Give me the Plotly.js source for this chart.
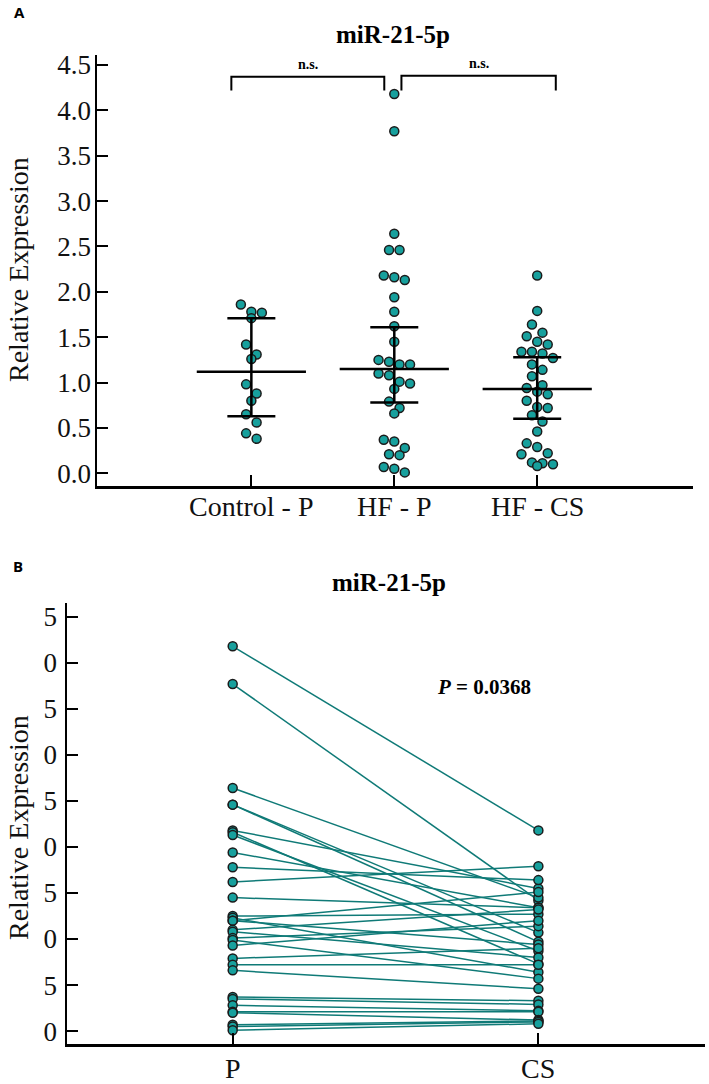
<!DOCTYPE html>
<html>
<head>
<meta charset="utf-8">
<script src="https://cdn.plot.ly/plotly-3.0.1.min.js"></script>
<style>
    html, body { margin: 0; padding: 0; background: #fff; }
    #chart { width: 709px; height: 1084px; }
</style>
</head>
<body>
<div id="chart"></div>
<script>
// ---- data ----
const groupNames = ['Control - P', 'HF - P', 'HF - CS'];

const controlP = [1.86, 1.78, 1.77, 1.71, 1.42, 1.31, 1.26, 0.98, 0.88, 0.80, 0.65, 0.56, 0.44, 0.38];

// HF plasma and coronary sinus, same patient at the same index (panel B pairs them)
const hfP = [4.18, 3.77, 2.64, 2.46, 2.46, 2.18, 2.16, 2.13, 1.94, 1.78, 1.62, 1.45,
    1.25, 1.23, 1.20, 1.20, 1.10, 1.08, 1.01, 0.99, 0.93, 0.79, 0.72, 0.66,
    0.37, 0.35, 0.28, 0.21, 0.20, 0.07, 0.05, 0.01];
const hfCS = [2.18, 1.42, 1.45, 1.07, 0.97, 1.55, 0.73, 0.87, 1.34, 1.64, 1.79, 1.34,
    1.27, 0.64, 1.51, 0.94, 1.32, 0.80, 1.14, 0.57, 1.20, 0.90, 0.72, 0.46,
    0.33, 0.29, 0.22, 0.21, 0.12, 0.11, 0.10, 0.08];

// median with interquartile range (panel A bars)
const groupMedian = [1.12, 1.15, 0.93];
const groupQ1 = [0.63, 0.78, 0.60];
const groupQ3 = [1.71, 1.61, 1.28];

// brackets between groups
const compareFrom = [0, 1];
const compareTo = [1, 2];
const compareLabel = ['n.s.', 'n.s.'];

const pairedNames = ['P', 'CS'];
const pValueLabel = '<i>P</i> = 0.0368';
const titleText = 'miR-21-5p';
const yTitleText = 'Relative Expression';
const yTickVals = [0, 0.5, 1, 1.5, 2, 2.5, 3, 3.5, 4, 4.5];

// ---- look ----
const W = 709, H = 1084;
const serif = '"Liberation Serif", "Times New Roman", Times, serif';
const dotFill = '#17a09d';
const dotEdge = '#1b1b1b';
const pairLine = '#0f7a77';

const rangeAx = [-1.08, 3.09], rangeAy = [-0.14, 4.61];
const rangeBx = [-0.542, 1.545], rangeBy = [-0.14, 4.65];
const domAx = [97 / W, 693 / W], domAy = [1 - 486 / H, 1 - 55 / H];
const domBx = [67 / W, 705 / W], domBy = [1 - 1044 / H, 1 - 603 / H];

function px(p) { return p / W; }
function py(p) { return 1 - p / H; }

/**
 * Prism style scatter: values closer than one dot in y share a row,
 * each row is centred on the category.
 */
function swarmOffsets(values, dot, xScale, yScale) {
    const order = values.map((v, i) => i).sort((a, b) => values[b] - values[a]);
    const offsets = new Array(values.length).fill(0);
    let row = [];
    const flush = () => {
        row.forEach((idx, k) => {
            offsets[idx] = (k - (row.length - 1) / 2) * dot / xScale;
        });
        row = [];
    };
    order.forEach(idx => {
        if (row.length && (values[row[0]] - values[idx]) * yScale > dot) flush();
        row.push(idx);
    });
    flush();
    return offsets;
}

const xScaleA = (domAx[1] - domAx[0]) * W / (rangeAx[1] - rangeAx[0]);
const yScaleA = (domAy[1] - domAy[0]) * H / (rangeAy[1] - rangeAy[0]);

// ---- panel A traces ----
const groups = [controlP, hfP, hfCS];
const dotX = [], dotY = [];
groups.forEach((vals, g) => {
    const off = swarmOffsets(vals, 10.5, xScaleA, yScaleA);
    vals.forEach((v, i) => {
        dotX.push(g + off[i]);
        dotY.push(v);
    });
});

const dotsA = {
    x: dotX, y: dotY, xaxis: 'x', yaxis: 'y',
    type: 'scatter', mode: 'markers',
    marker: { size: 9, color: dotFill, line: { color: dotEdge, width: 1.5 } },
    hoverinfo: 'y', showlegend: false
};

const summaryA = {
    x: [0, 1, 2], y: groupMedian, xaxis: 'x', yaxis: 'y',
    type: 'scatter', mode: 'markers',
    marker: { symbol: 'line-ew', size: 78, color: 'black', line: { color: 'black', width: 2.5 } },
    error_y: {
        type: 'data', symmetric: false,
        array: groupQ3.map((q, i) => q - groupMedian[i]),
        arrayminus: groupQ1.map((q, i) => groupMedian[i] - q),
        width: 24, thickness: 2.5, color: 'black'
    },
    hoverinfo: 'skip', showlegend: false
};

// ---- panel B traces ----
const lineX = [], lineY = [];
hfP.forEach((v, i) => {
    lineX.push(0, 1, null);
    lineY.push(v, hfCS[i], null);
});

const linesB = {
    x: lineX, y: lineY, xaxis: 'x2', yaxis: 'y2',
    type: 'scatter', mode: 'lines',
    line: { color: pairLine, width: 1.5 },
    hoverinfo: 'skip', showlegend: false
};

const dotsB = {
    x: hfP.map(() => 0).concat(hfCS.map(() => 1)),
    y: hfP.concat(hfCS), xaxis: 'x2', yaxis: 'y2',
    type: 'scatter', mode: 'markers',
    marker: { size: 9, color: dotFill, line: { color: dotEdge, width: 1.5 } },
    hoverinfo: 'y', showlegend: false
};

// ---- axes ----
function baseAxis() {
    return {
        showline: true, linecolor: 'black', linewidth: 2.5,
        ticks: 'inside', ticklen: 11, tickwidth: 2, tickcolor: 'black',
        showgrid: false, zeroline: false, fixedrange: true,
        tickfont: { family: serif, size: 27, color: '#111' }
    };
}

// category names are written as annotations below, closer to the axis than plotly puts tick labels
const xA = Object.assign(baseAxis(), {
    domain: domAx, range: rangeAx, anchor: 'y',
    tickvals: [0, 1, 2], showticklabels: false
});
const yA = Object.assign(baseAxis(), {
    domain: domAy, range: rangeAy, anchor: 'x',
    tickvals: yTickVals, ticktext: yTickVals.map(v => v.toFixed(1)), ticklabelstandoff: -2
});
const xB = Object.assign(baseAxis(), {
    domain: domBx, range: rangeBx, anchor: 'y2',
    tickvals: [0, 1], showticklabels: false
});
// the left part of these labels is cut off in the figure, only the last digit shows
const yB = Object.assign(baseAxis(), {
    domain: domBy, range: rangeBy, anchor: 'x2',
    tickvals: yTickVals, ticktext: yTickVals.map(v => v.toFixed(1).slice(-1)), ticklabelstandoff: 2
});

// ---- brackets and text ----
const bracketEnds = [[-0.14, -0.07], [0.05, 0.13]];
const bracketTop = [4.37, 4.38];
const bracketLeg = 4.22;
const shapes = [];
const annotations = [];

compareFrom.forEach((a, k) => {
    const x0 = a + bracketEnds[k][0];
    const x1 = compareTo[k] + bracketEnds[k][1];
    shapes.push({
        type: 'path', xref: 'x', yref: 'y',
        path: `M ${x0} ${bracketLeg} L ${x0} ${bracketTop[k]} L ${x1} ${bracketTop[k]} L ${x1} ${bracketLeg}`,
        line: { color: 'black', width: 2 }
    });
    annotations.push({
        x: (x0 + x1) / 2, y: bracketTop[k] + 0.03, xref: 'x', yref: 'y',
        yanchor: 'bottom', text: '<b>' + compareLabel[k] + '</b>', showarrow: false,
        font: { family: serif, size: 14, color: 'black' }
    });
});

const catFont = { family: serif, size: 28, color: '#111' };
groupNames.forEach((name, i) => {
    annotations.push({
        text: name, x: i, y: py(506), xref: 'x', yref: 'paper',
        yanchor: 'middle', showarrow: false, font: catFont
    });
});
pairedNames.forEach((name, i) => {
    annotations.push({
        text: name, x: i, y: py(1068), xref: 'x2', yref: 'paper',
        yanchor: 'middle', showarrow: false, font: catFont
    });
});

function label(text, x, y, font, extra) {
    return Object.assign({
        text: text, x: px(x), y: py(y), xref: 'paper', yref: 'paper',
        xanchor: 'center', yanchor: 'middle', showarrow: false, font: font
    }, extra || {});
}

const titleFont = { family: serif, size: 25, color: 'black' };
const axisTitleFont = { family: serif, size: 28, color: '#111' };
const panelFont = { family: '"Open Sans", sans-serif', size: 15, color: 'black' };

annotations.push(
    label('<b>A</b>', 19, 12, panelFont),
    label('<b>B</b>', 17.5, 566, panelFont),
    label('<b>' + titleText + '</b>', 393, 34, titleFont),
    label('<b>' + titleText + '</b>', 389, 582, titleFont),
    label(yTitleText, 18, 270, axisTitleFont, { textangle: -90 }),
    label(yTitleText, 18, 828, axisTitleFont, { textangle: -90 }),
    label('<b>' + pValueLabel + '</b>', 484, 687, { family: serif, size: 21, color: 'black' })
);

const layout = {
    width: W, height: H,
    margin: { l: 0, r: 0, t: 0, b: 0 },
    paper_bgcolor: 'white', plot_bgcolor: 'white',
    showlegend: false,
    xaxis: xA, yaxis: yA, xaxis2: xB, yaxis2: yB,
    shapes: shapes, annotations: annotations
};

Plotly.newPlot('chart', [dotsA, summaryA, linesB, dotsB], layout, { staticPlot: true });
</script>
</body>
</html>
